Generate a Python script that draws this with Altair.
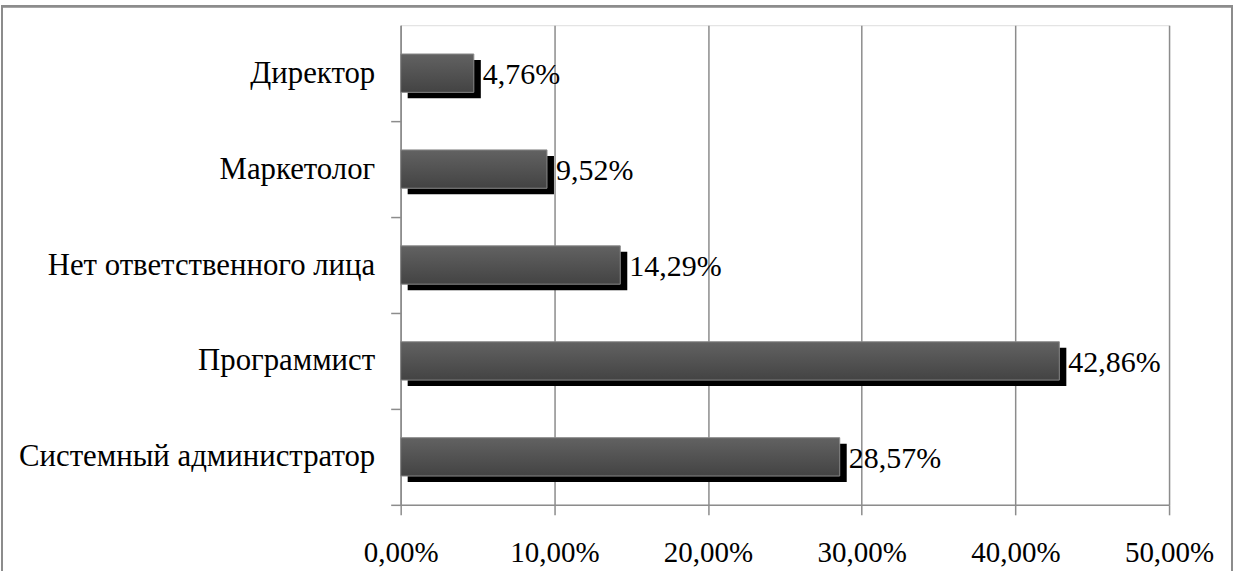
import altair as alt
import pandas as pd

# Who is responsible for the task (share of respondents)
roles = [
    "Директор",
    "Маркетолог",
    "Нет ответственного лица",
    "Программист",
    "Системный администратор",
]
shares = [4.76, 9.52, 14.29, 42.86, 28.57]
labels = ["4,76%", "9,52%", "14,29%", "42,86%", "28,57%"]
x_ticks = [0, 10, 20, 30, 40, 50]

df = pd.DataFrame({"role": roles, "share": shares, "label": labels})

FONT = "Liberation Serif"
GRID = "#8c8c8c"
STEP = 96  # height of one category row

y_enc = alt.Y(
    "role:N",
    sort=roles,
    title=None,
    scale=alt.Scale(paddingInner=0.6, paddingOuter=0.3),
    axis=alt.Axis(
        tickBand="center",
        tickOffset=STEP / 2,
        labelOffset=-STEP / 2,
        tickSize=10,
        labelPadding=16,
        labelLimit=0,
        labelFont=FONT,
        labelFontSize=30.8,
        labelColor="black",
        domainColor=GRID,
        tickColor=GRID,
        domainWidth=1.5,
        tickWidth=1.5,
        grid=False,
    ),
)

x_enc = alt.X(
    "share:Q",
    title=None,
    scale=alt.Scale(domain=[0, 50], nice=False),
    axis=alt.Axis(
        values=x_ticks,
        labelExpr="replace(format(datum.value, '.2f'), '.', ',') + '%'",
        labelFlush=False,
        labelOverlap=False,
        tickSize=10,
        labelPadding=24,
        labelFont=FONT,
        labelFontSize=29,
        labelColor="black",
        domainColor=GRID,
        tickColor=GRID,
        gridColor=GRID,
        domainWidth=1.5,
        tickWidth=1.5,
        gridWidth=1.5,
        gridOpacity=1,
    ),
)

base = alt.Chart(df)

# outer frame around the whole chart
frame = base.mark_rect(fill=None, stroke=GRID, strokeWidth=2).encode(
    x=alt.value(-399), x2=alt.value(832), y=alt.value(-19), y2=alt.value(620)
)

# drop shadow behind each bar (xOffset moves the value end, x2Offset the zero end)
shadow = base.mark_bar(color="black", xOffset=7, x2Offset=3, yOffset=6).encode(
    x=x_enc, y=y_enc
)

bars = base.mark_bar(
    fill=alt.Gradient(
        gradient="linear",
        stops=[
            alt.GradientStop(color="#626262", offset=0),
            alt.GradientStop(color="#434343", offset=1),
        ],
        x1=0, x2=0, y1=0, y2=1,
    ),
    stroke="#8a8a8a",
    strokeWidth=1,
).encode(x=x_enc, y=y_enc)

text = base.mark_text(
    align="left", baseline="middle", dx=9, dy=2,
    font=FONT, fontSize=30, color="black",
).encode(x=x_enc, y=y_enc, text="label:N")

chart = (
    alt.layer(frame, shadow, bars, text)
    .properties(
        width=769,
        height=480,
        autosize=alt.AutoSizeParams(type="none"),
        padding={"left": 401, "top": 25, "right": 70, "bottom": 66},
    )
    .configure_view(stroke=None)
    .configure(background="white")
)

chart.save("out.html", embed_options={"renderer": "svg", "actions": False})
